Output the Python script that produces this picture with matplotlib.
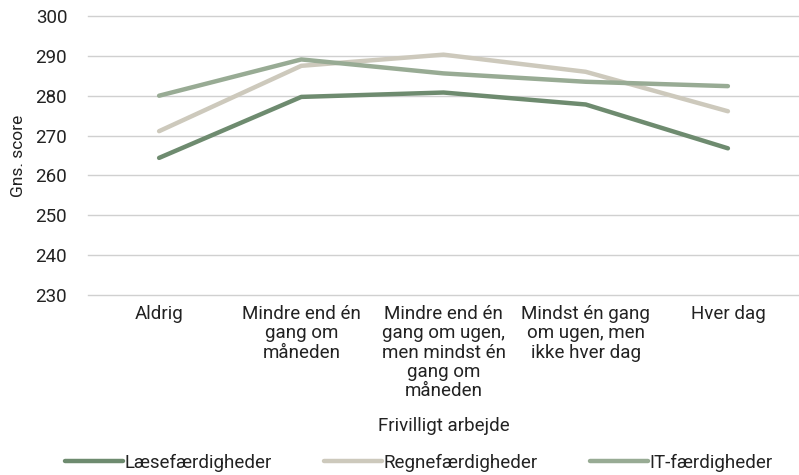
import matplotlib
matplotlib.use("Agg")
import matplotlib.pyplot as plt

plt.rcParams['font.family'] = ['Roboto', 'DejaVu Sans']

categories = ['Aldrig', 'Mindre end én\ngang om\nmåneden',
              'Mindre end én\ngang om ugen,\nmen mindst én\ngang om\nmåneden',
              'Mindst én gang\nom ugen, men\nikke hver dag', 'Hver dag']
laese = [264.4, 279.7, 280.8, 277.8, 266.8]
regne = [271.1, 287.5, 290.3, 286.0, 276.1]
it = [280.0, 289.1, 285.6, 283.5, 282.4]

series_names = ['Læsefærdigheder', 'Regnefærdigheder', 'IT-færdigheder']
colors = ['#6e8b6f', '#cdc9bc', '#98ab94']
txt = '#222222'

fig = plt.figure(figsize=(7.99, 4.75), dpi=100)
ax = fig.add_axes([88/799, 1-295/475, 711/799, 279/475])

x = range(len(categories))
for vals, name, c in zip([laese, regne, it], series_names, colors):
    ax.plot(x, vals, color=c, lw=3.2, label=name, solid_capstyle='round',
            solid_joinstyle='round')

ax.set_xlim(-0.5, 4.5)
ax.set_ylim(230, 300)
ax.set_yticks(range(230, 301, 10))
ax.grid(axis='y', color='#d0d0d0', lw=1)
for gl in ax.get_ygridlines():
    gl.set_clip_on(False)
ax.set_axisbelow(True)
for s in ax.spines.values():
    s.set_visible(False)
ax.tick_params(length=0, labelsize=13.5, colors=txt)
ax.tick_params(axis='y', pad=15)
ax.set_xticks(list(x))
ax.set_xticklabels(categories, fontsize=13.5, linespacing=1.1)
ax.tick_params(axis='x', pad=7)
ax.set_ylabel('Gns. score', fontsize=12.5, color=txt, labelpad=7)

fig.text(0.5 * (88 + 799) / 799, 1 - 426/475, 'Frivilligt arbejde', ha='center',
         va='center', fontsize=13.5, color=txt)

fig.legend(loc='center', bbox_to_anchor=(0.524, 1 - 463/475), ncol=3,
           frameon=False, fontsize=13.5, handlelength=3.1, handletextpad=0.05,
           columnspacing=2.8, labelcolor=txt)

fig.savefig('out.png', dpi=100)
